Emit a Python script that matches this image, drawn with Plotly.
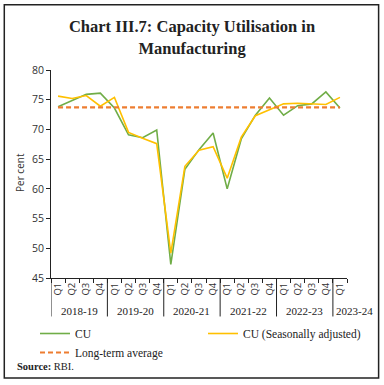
import plotly.graph_objects as go

years = ["2018-19", "2019-20", "2020-21", "2021-22", "2022-23", "2023-24"]
quarters = ["Q1", "Q2", "Q3", "Q4"] * 5 + ["Q1"]
cu = [73.8, 74.8, 75.9, 76.1, 73.6, 69.1, 68.6, 69.9, 47.3, 63.3, 66.6, 69.4,
      60.0, 68.4, 72.4, 75.3, 72.4, 74.0, 74.3, 76.3, 73.6]
cu_sa = [75.6, 75.2, 75.7, 73.9, 75.4, 69.5, 68.5, 67.6, 49.2, 63.8, 66.5, 67.1,
         61.8, 68.7, 72.3, 73.3, 74.3, 74.4, 74.3, 74.2, 75.4]
lta = [73.7] * 21

x = list(range(len(quarters)))
year_counts = [4, 4, 4, 4, 4, 1]

serif = "Liberation Serif"
sans = "Open Sans"

fig = go.Figure()
fig.add_trace(go.Scatter(x=x, y=cu, mode="lines", name="CU", legend="legend",
                         line=dict(color="#70AD47", width=1.6)))
fig.add_trace(go.Scatter(x=x, y=cu_sa, mode="lines", name="CU (Seasonally adjusted)",
                         legend="legend2", line=dict(color="#FFC000", width=1.6)))
fig.add_trace(go.Scatter(x=x, y=lta, mode="lines", name="Long-term average", legend="legend",
                         line=dict(color="#ED7D31", width=2.2, dash="5px,3px")))

shapes = []
annotations = []
start = 0
bounds = [-0.5]
for yr, n in zip(years, year_counts):
    if n == 4:
        ann_x, anchor = start + (n - 1) / 2, "center"
    else:
        ann_x, anchor = start - 0.45, "left"
    annotations.append(dict(x=ann_x, y=-0.157, xref="x", yref="paper", text=yr,
                            xanchor=anchor, showarrow=False,
                            font=dict(family=serif, size=11, color="#222"),
                            yanchor="middle"))
    start += n
    bounds.append(start - 0.5)
for b in bounds[:-1]:
    shapes.append(dict(type="line", xref="x", yref="paper", x0=b, x1=b, y0=0, y1=-0.185,
                       line=dict(color="#222", width=1)))
shapes.append(dict(type="rect", xref="paper", yref="paper", x0=-0.1578, x1=1.1068,
                   y0=-0.4808, y1=1.314, line=dict(color="#222", width=1.5)))

annotations.append(dict(x=-0.12, y=-0.425, xref="paper", yref="paper", xanchor="left",
                        yanchor="middle", showarrow=False,
                        text="<b>Source:</b> RBI.", font=dict(family=serif, size=10.5, color="#222")))
annotations.append(dict(x=-0.104, y=0.506, xref="paper", yref="paper", xanchor="center",
                        yanchor="middle", showarrow=False, textangle=-90,
                        text="Per cent", font=dict(family=sans, size=10, color="#333")))

legend_common = dict(xref="container", yref="container", xanchor="left", yanchor="top",
                     orientation="v", tracegroupgap=0, bgcolor="rgba(0,0,0,0)",
                     font=dict(family=serif, size=11.5, color="#222"))

fig.update_layout(
    width=384, height=385,
    margin=dict(l=50.7, r=37.3, t=70.3, b=106.7, autoexpand=False),
    paper_bgcolor="white", plot_bgcolor="white",
    title=dict(text="<b>Chart III.7: Capacity Utilisation in<br>Manufacturing</b>",
               x=0.5, xanchor="center", y=0.916, yanchor="top",
               font=dict(family=serif, size=16.5, color="#222")),
    xaxis=dict(range=[-0.5, 20.5], tickmode="array", tickvals=x, ticktext=quarters,
               tickangle=-90, ticks="", showline=True, linecolor="#222", linewidth=1,
               showgrid=False, zeroline=False, automargin=False,
               tickfont=dict(family=sans, size=9.5, color="#333"),
               minor=dict(tickmode="linear", tick0=-0.5, dtick=1, ticks="outside",
                          ticklen=4, tickcolor="#222", tickwidth=1)),
    yaxis=dict(range=[45, 80], dtick=5, ticks="outside", ticklen=4, tickcolor="#222",
               showline=True, linecolor="#222", linewidth=1, showgrid=False, zeroline=False,
               automargin=False,
               tickfont=dict(family=sans, size=10.5, color="#333")),
    legend=dict(x=35 / 384, y=1 - 319 / 385, **legend_common),
    legend2=dict(x=203 / 384, y=1 - 319 / 385, **legend_common),
    shapes=shapes, annotations=annotations,
)

fig.write_html("out.html", config={"displayModeBar": False},
               post_script="document.body.style.margin='0';document.documentElement.style.overflow='hidden';")
